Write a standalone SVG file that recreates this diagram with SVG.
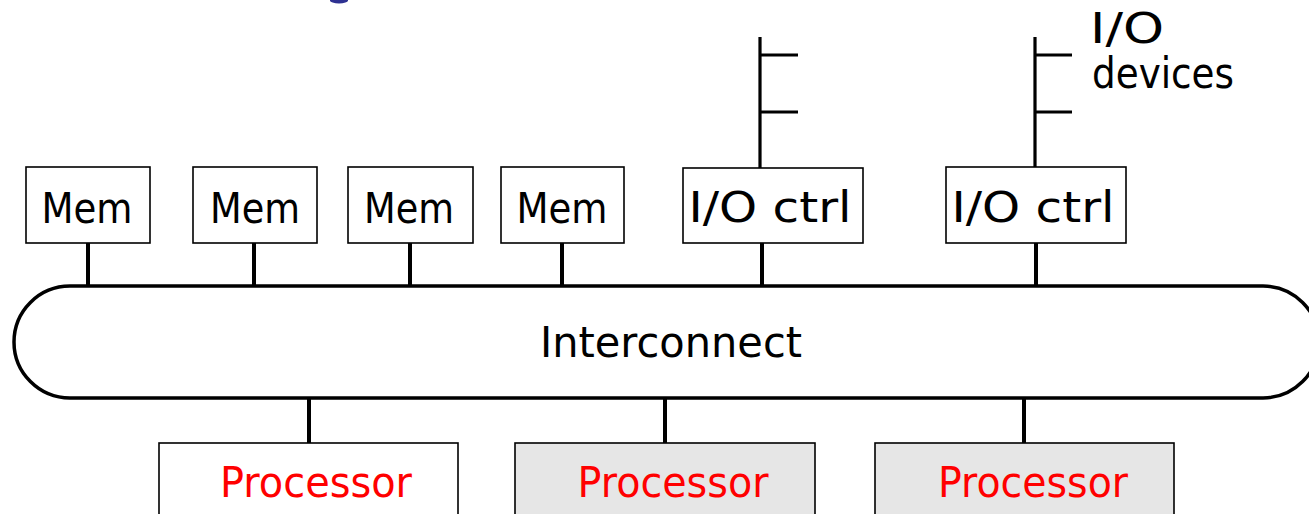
<svg xmlns="http://www.w3.org/2000/svg" width="1309" height="514" viewBox="0 0 1309 514">
<style>
.box{fill:#fff;stroke:#000;stroke-width:1.6}
.gbox{fill:#e6e6e6;stroke:#000;stroke-width:1.6}
.lbl{font-family:"DejaVu Sans","Noto Sans",sans-serif;font-size:42px;fill:#000}
.red{fill:#ff0000}
.wire{stroke:#000;stroke-width:4;fill:none}
.dev{stroke:#000;stroke-width:3.2;fill:none}
</style>
<rect width="1309" height="514" fill="#fff"/>
<ellipse cx="339" cy="0.5" rx="9" ry="3" fill="#2e3192"/>
<g id="connectors">
<path class="wire" d="M88 243V287M254 243V287M410 243V287M562 243V287M762 243V287M1036 243V287"/>
<path class="wire" d="M309 398V443M665 398V443M1024 398V443"/>
<path class="dev" d="M760 37V168M760 55H798M760 112H798"/>
<path class="dev" d="M1035 37V167M1035 55H1072M1035 112H1072"/>
</g>
<g id="interconnect">
<rect x="14" y="286" width="1305" height="112" rx="56" ry="56" fill="#fff" stroke="#000" stroke-width="3.5"/>
<text class="lbl" x="671" y="357" text-anchor="middle" font-size="40" textLength="262" lengthAdjust="spacingAndGlyphs">Interconnect</text>
</g>
<g id="mem1"><rect class="box" x="26" y="167" width="124" height="76"/><text class="lbl" x="87" y="223" text-anchor="middle" textLength="91" lengthAdjust="spacingAndGlyphs">Mem</text></g>
<g id="mem2"><rect class="box" x="193" y="167" width="124" height="76"/><text class="lbl" x="255" y="223" text-anchor="middle" textLength="90" lengthAdjust="spacingAndGlyphs">Mem</text></g>
<g id="mem3"><rect class="box" x="348" y="167" width="125" height="76"/><text class="lbl" x="409" y="223" text-anchor="middle" textLength="90" lengthAdjust="spacingAndGlyphs">Mem</text></g>
<g id="mem4"><rect class="box" x="501" y="167" width="123" height="76"/><text class="lbl" x="562" y="223" text-anchor="middle" textLength="91" lengthAdjust="spacingAndGlyphs">Mem</text></g>
<g id="ioctrl1"><rect class="box" x="683" y="168" width="180" height="75"/><text class="lbl" x="770" y="222" text-anchor="middle" textLength="163" lengthAdjust="spacingAndGlyphs">I/O ctrl</text></g>
<g id="ioctrl2"><rect class="box" x="946" y="167" width="180" height="76"/><text class="lbl" x="1033" y="222" text-anchor="middle" textLength="163" lengthAdjust="spacingAndGlyphs">I/O ctrl</text></g>
<g id="iodevices">
<text class="lbl" x="1090" y="43" textLength="74" lengthAdjust="spacingAndGlyphs">I/O</text>
<text class="lbl" x="1092" y="88" textLength="142" lengthAdjust="spacingAndGlyphs">devices</text>
</g>
<g id="proc1"><rect class="box" x="159" y="443" width="299" height="80"/><text class="lbl red" x="316" y="497" text-anchor="middle" textLength="192" lengthAdjust="spacingAndGlyphs">Processor</text></g>
<g id="proc2"><rect class="gbox" x="515" y="443" width="300" height="80"/><text class="lbl red" x="673" y="497" text-anchor="middle" textLength="191" lengthAdjust="spacingAndGlyphs">Processor</text></g>
<g id="proc3"><rect class="gbox" x="875" y="443" width="299" height="80"/><text class="lbl red" x="1033" y="497" text-anchor="middle" textLength="190" lengthAdjust="spacingAndGlyphs">Processor</text></g>
</svg>
